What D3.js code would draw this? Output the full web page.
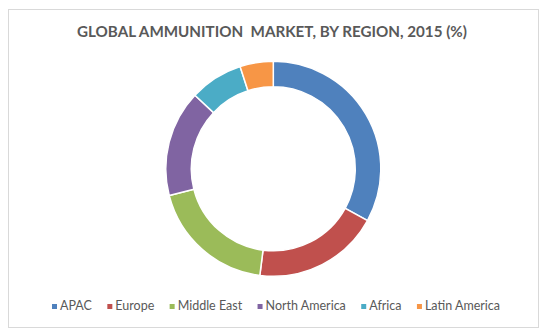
<!DOCTYPE html>
<html>
<head>
<meta charset="utf-8">
<script src="https://cdn.jsdelivr.net/npm/d3@7"></script>
<style>
  body { margin: 0; background: #fff; }
  svg { display: block; }
</style>
</head>
<body>
<div id="chart"></div>
<script>
var regions = ['APAC', 'Europe', 'Middle East', 'North America', 'Africa', 'Latin America'];
var shares = [33, 19, 19, 16, 8, 5];
var colors = ['#4F81BD', '#C0504D', '#9BBB59', '#8064A2', '#4BACC6', '#F79646'];
var title = 'GLOBAL AMMUNITION  MARKET, BY REGION, 2015 (%)';

(() => {
  var width = 545,
      height = 332;

  var svg = d3.select('#chart')
    .append('svg')
    .attr('width', width)
    .attr('height', height);

  // chart frame
  svg.append('rect')
    .attr('x', 8.5)
    .attr('y', 9.5)
    .attr('width', 530)
    .attr('height', 318)
    .attr('fill', '#fff')
    .attr('stroke', '#d9d9d9');

  var t = svg.append('text')
    .attr('x', 272)
    .attr('y', 37)
    .attr('text-anchor', 'middle')
    .attr('font-family', 'Lato, "Open Sans", sans-serif')
    .attr('font-weight', 'bold')
    .attr('font-size', 14)
    .attr('fill', '#595959')
    .style('white-space', 'pre')
    .text(title);
  var tw = t.node().getComputedTextLength();
  t.attr('font-size', 14 * 390 / tw);

  var data = regions.map((r, i) => ({ region: r, value: shares[i] }));

  var pie = d3.pie()
    .sort(null)
    .value(d => d.value);

  var arc = d3.arc()
    .innerRadius(82)
    .outerRadius(107.5);

  var color = d3.scaleOrdinal()
    .domain(regions)
    .range(colors);

  svg.append('g')
    .attr('transform', 'translate(273.3, 168.8)')
    .selectAll('path')
    .data(pie(data))
    .enter()
      .append('path')
      .attr('d', arc)
      .attr('fill', d => color(d.data.region))
      .attr('stroke', '#fff')
      .attr('stroke-width', 1.5);

  // legend, spread across the same span as the original
  var legend = svg.append('g');
  var items = legend.selectAll('g')
    .data(regions)
    .enter()
      .append('g');

  items.append('rect')
    .attr('y', 304)
    .attr('width', 5)
    .attr('height', 5)
    .attr('fill', d => color(d));

  items.append('text')
    .attr('x', 8)
    .attr('y', 309.5)
    .attr('font-family', 'Lato, "Open Sans", sans-serif')
    .attr('font-size', 12.5)
    .attr('fill', '#595959')
    .text(d => d);

  var ws = [];
  items.each(function() {
    ws.push(8 + d3.select(this).select('text').node().getComputedTextLength());
  });
  var span = 448, left = 52;
  var gap = (span - d3.sum(ws)) / (ws.length - 1);
  var x = left;
  items.attr('transform', (d, i) => {
    var p = x;
    x += ws[i] + gap;
    return 'translate(' + p + ',0)';
  });
})();
</script>
</body>
</html>
